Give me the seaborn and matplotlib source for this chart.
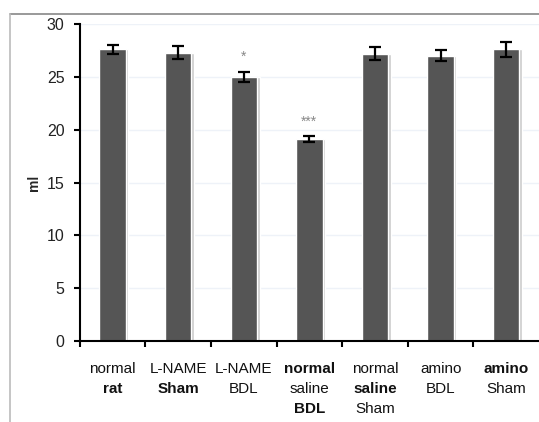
import numpy as np
import pandas as pd
import matplotlib
matplotlib.use("Agg")
import matplotlib.pyplot as plt
import seaborn as sns
from matplotlib.lines import Line2D

# data
groups = ["normal rat", "L-NAME Sham", "L-NAME BDL", "normal saline BDL",
          "normal saline Sham", "amino BDL", "amino Sham"]
values = [27.6, 27.3, 25.0, 19.1, 27.2, 27.0, 27.6]
errors = [0.4, 0.6, 0.5, 0.3, 0.6, 0.5, 0.7]
signif = ["", "", "*", "***", "", "", ""]
# tick label lines (text, bold?)
label_lines = [
    [("normal", False), ("rat", True)],
    [("L-NAME", False), ("Sham", True)],
    [("L-NAME", False), ("BDL", False)],
    [("normal", True), ("saline", False), ("BDL", True)],
    [("normal", False), ("saline", True), ("Sham", False)],
    [("amino", False), ("BDL", False)],
    [("amino", True), ("Sham", False)],
]

sns.set_style("white")
plt.rcParams['font.family'] = ['Liberation Sans', 'DejaVu Sans']

df = pd.DataFrame({"group": groups, "ml": values})

fig = plt.figure(figsize=(5.39, 4.22), dpi=100)
ax = fig.add_axes([0.148, 0.192, 0.852, 0.751])

# shadow bars
x = np.arange(len(groups))
ax.bar(x + 0.03, values, width=0.42, color="#cccccc", zorder=1)
sns.barplot(data=df, x="group", y="ml", color="#555555", width=0.4,
            saturation=1, ax=ax, zorder=2)
ax.errorbar(x, values, yerr=errors, fmt="none", ecolor="black",
            elinewidth=1.6, capsize=4, capthick=1.6, zorder=3)

for i, s in enumerate(signif):
    if s:
        ax.text(i, values[i] + errors[i] + 0.7, s, ha="center", va="bottom",
                fontsize=10, color="#888888")

ax.set_xlim(-0.5, 6.5)
ax.set_ylim(0, 30)
ax.set_yticks(range(0, 31, 5))
ax.yaxis.grid(True, color="#eef2f8", linewidth=1)
ax.set_axisbelow(True)

ax.set_xticks(np.arange(-0.5, 6.5, 1.0))
ax.set_xticklabels([])
ax.tick_params(axis="x", direction="out", length=4, width=1.5, color="black", bottom=True)
ax.tick_params(axis="y", direction="out", length=4, width=1.5, color="black", left=True,
               labelsize=11.5, pad=7, labelcolor="#222222")

for side in ["top", "right"]:
    ax.spines[side].set_visible(False)
for side in ["left", "bottom"]:
    ax.spines[side].set_color("black")
    ax.spines[side].set_linewidth(1.5)

trans = ax.get_xaxis_transform()
for i, lines in enumerate(label_lines):
    for j, (txt, bold) in enumerate(lines):
        ax.annotate(txt, xy=(i, 0), xycoords=trans, xytext=(0, -20 - 14.5 * j),
                    textcoords="offset points", ha="center", va="center",
                    fontsize=11, fontweight="bold" if bold else "normal",
                    color="#111111")

ax.set_xlabel("")
ax.set_ylabel("ml", fontsize=10, fontweight="bold", labelpad=4)

# picture frame lines
fig.add_artist(Line2D([10 / 539, 1], [1 - 14 / 422, 1 - 14 / 422],
                      transform=fig.transFigure, color="#888888", linewidth=1.2))
fig.add_artist(Line2D([10 / 539, 10 / 539], [0, 1 - 14 / 422],
                      transform=fig.transFigure, color="#bbbbbb", linewidth=1.2))

fig.savefig("out.png", dpi=100)
